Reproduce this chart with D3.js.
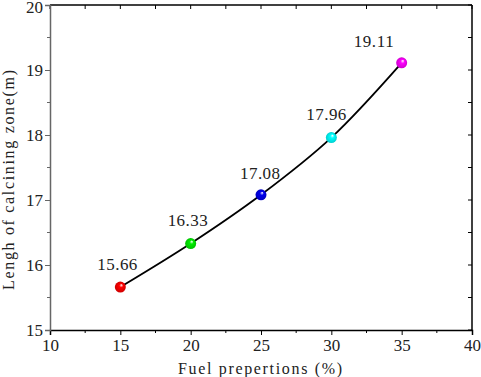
<!DOCTYPE html>
<html>
<head>
<meta charset="utf-8">
<script src="https://cdn.jsdelivr.net/npm/d3@7"></script>
<style>
  body { margin: 0; background: #fff; }
</style>
</head>
<body>
<script>
// data
var fuel = [15, 20, 25, 30, 35];
var zoneLength = [15.66, 16.33, 17.08, 17.96, 19.11];
var pointColors = ['#ff0000', '#00ee00', '#0000ee', '#00ffff', '#ff00ff'];
var xTicks = [10, 15, 20, 25, 30, 35, 40];
var yTicks = [15, 16, 17, 18, 19, 20];
// label nudges (px) relative to each point
var labelDx = [-3, -3, -1, -5, -28];
var labelDy = [-17, -18, -16, -18, -16];

var FONT = 'Liberation Serif, DejaVu Serif, serif';
var W = 481, H = 377;
var svg = d3.select('body').append('svg')
  .attr('width', W)
  .attr('height', H);

var x = d3.scaleLinear().domain([10, 40]).range([50, 472]);
var y = d3.scaleLinear().domain([15, 20]).range([330, 5]);

var defs = svg.append('defs');
pointColors.forEach(function (c, i) {
  var g = defs.append('radialGradient')
    .attr('id', 'ball' + i)
    .attr('cx', '0.5').attr('cy', '0.5').attr('r', '0.5')
    .attr('fx', '0.62').attr('fy', '0.3');
  g.append('stop').attr('offset', '0').attr('stop-color', '#fff');
  g.append('stop').attr('offset', '0.35').attr('stop-color', c);
  g.append('stop').attr('offset', '1').attr('stop-color', d3.color(c).darker(0.6));
});

// frame: top and right
svg.append('line').attr('x1', 50).attr('x2', 472).attr('y1', 5).attr('y2', 5)
  .attr('stroke', '#000').attr('stroke-width', 1.5);
svg.append('line').attr('x1', 472).attr('x2', 472).attr('y1', 5).attr('y2', 330)
  .attr('stroke', '#000').attr('stroke-width', 1.5);

// minor + major ticks on top / right (inward)
var xMinor = d3.range(12.5, 40, 5);
var yMinor = d3.range(15.5, 20, 1);
svg.append('g').selectAll('line').data(xMinor.concat(xTicks)).enter().append('line')
  .attr('x1', d => x(d)).attr('x2', d => x(d))
  .attr('y1', 5).attr('y2', 9).attr('stroke', '#000');
svg.append('g').selectAll('line').data(yMinor.concat(yTicks)).enter().append('line')
  .attr('x1', 472).attr('x2', 468)
  .attr('y1', d => y(d)).attr('y2', d => y(d)).attr('stroke', '#000');

// bottom axis
var xAxis = svg.append('g')
  .attr('transform', 'translate(0,330)')
  .call(d3.axisBottom(x).tickValues(xTicks).tickFormat(d3.format('d')).tickSize(5).tickPadding(4));
xAxis.attr('font-family', FONT).attr('font-size', 17);
xAxis.select('.domain').attr('stroke', '#000').attr('stroke-width', 1.5);
xAxis.selectAll('text').attr('fill', '#222');
svg.append('g').attr('transform', 'translate(0,330)').selectAll('line')
  .data(xMinor).enter().append('line')
  .attr('x1', d => x(d)).attr('x2', d => x(d)).attr('y1', 0).attr('y2', 3)
  .attr('stroke', '#000');

// left axis
var yAxis = svg.append('g')
  .attr('transform', 'translate(50,0)')
  .call(d3.axisLeft(y).tickValues(yTicks).tickFormat(d3.format('d')).tickSize(5).tickPadding(2));
yAxis.attr('font-family', FONT).attr('font-size', 17);
yAxis.select('.domain').attr('stroke', '#666').attr('stroke-width', 1.5);
yAxis.selectAll('.tick line').attr('stroke', '#666');
yAxis.selectAll('text').attr('fill', '#222');
// top label sits a little lower so it is not clipped
yAxis.selectAll('.tick text').filter(d => d === 20).attr('dy', '0.45em');
svg.append('g').attr('transform', 'translate(50,0)').selectAll('line')
  .data(yMinor).enter().append('line')
  .attr('x1', 0).attr('x2', -3).attr('y1', d => y(d)).attr('y2', d => y(d))
  .attr('stroke', '#666');

// axis titles
svg.append('text')
  .attr('x', 260).attr('y', 374)
  .attr('text-anchor', 'middle')
  .attr('textLength', 164)
  .attr('font-family', FONT).attr('font-size', 16).attr('fill', '#222')
  .text('Fuel prepertions (%)');
svg.append('text')
  .attr('transform', 'translate(14,180) rotate(-90)')
  .attr('text-anchor', 'middle')
  .attr('textLength', 220)
  .attr('font-family', FONT).attr('font-size', 16).attr('fill', '#222')
  .text('Lengh of calcining zone(m)');

// curve
var pts = fuel.map((f, i) => [f, zoneLength[i]]);
svg.append('path')
  .datum(pts)
  .attr('fill', 'none')
  .attr('stroke', '#000')
  .attr('stroke-width', 1.8)
  .attr('d', d3.line().x(d => x(d[0])).y(d => y(d[1])).curve(d3.curveCatmullRom));

// balls
svg.append('g').selectAll('circle').data(pts).enter().append('circle')
  .attr('cx', d => x(d[0])).attr('cy', d => y(d[1]))
  .attr('r', 5.5)
  .attr('fill', (d, i) => 'url(#ball' + i + ')');

// value labels
svg.append('g').attr('font-family', FONT).attr('font-size', 17).attr('fill', '#222')
  .selectAll('text').data(pts).enter().append('text')
  .attr('x', (d, i) => x(d[0]) + labelDx[i])
  .attr('y', (d, i) => y(d[1]) + labelDy[i])
  .attr('text-anchor', 'middle')
  .attr('textLength', 40)
  .text(d => d[1].toFixed(2));
</script>
</body>
</html>
